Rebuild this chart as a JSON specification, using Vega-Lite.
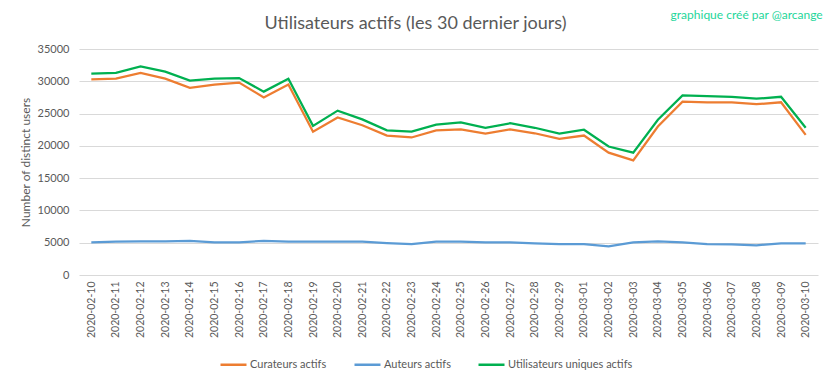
{
  "$schema": "https://vega.github.io/schema/vega-lite/v6.json",
  "width": 739,
  "height": 226,
  "autosize": {"type": "none"},
  "padding": {"left": 79, "top": 49, "right": 15, "bottom": 104},
  "background": "white",
  "title": {
    "text": "Utilisateurs actifs (les 30 dernier jours)",
    "orient": "top",
    "font": "Lato",
    "fontSize": 18,
    "fontWeight": "normal",
    "color": "#595959",
    "anchor": "middle",
    "dx": -33,
    "offset": -24
  },
  "config": {
    "view": {"stroke": null},
    "font": "Lato",
    "axis": {
      "labelColor": "#595959",
      "titleColor": "#595959",
      "labelFont": "Lato",
      "titleFont": "Lato",
      "gridColor": "#d9d9d9",
      "gridWidth": 1
    },
    "axisX": {
      "title": null,
      "labelAngle": 270,
      "labelFontSize": 10.5,
      "labelPadding": 6,
      "ticks": false,
      "domain": false,
      "grid": false
    },
    "axisY": {
      "titleFontSize": 12,
      "titleFontWeight": "normal",
      "titlePadding": 5,
      "labelOverlap": false,
      "labelFontSize": 11,
      "labelPadding": 10,
      "ticks": false,
      "domain": false
    },
    "legend": {"labelColor": "#595959", "labelFont": "Lato"}
  },
  "data": {
    "values": [
      {"date": "2020-02-10", "series": "Curateurs actifs", "value": 30300},
      {"date": "2020-02-11", "series": "Curateurs actifs", "value": 30400},
      {"date": "2020-02-12", "series": "Curateurs actifs", "value": 31300},
      {"date": "2020-02-13", "series": "Curateurs actifs", "value": 30400},
      {"date": "2020-02-14", "series": "Curateurs actifs", "value": 29000},
      {"date": "2020-02-15", "series": "Curateurs actifs", "value": 29500},
      {"date": "2020-02-16", "series": "Curateurs actifs", "value": 29800},
      {"date": "2020-02-17", "series": "Curateurs actifs", "value": 27500},
      {"date": "2020-02-18", "series": "Curateurs actifs", "value": 29500},
      {"date": "2020-02-19", "series": "Curateurs actifs", "value": 22200},
      {"date": "2020-02-20", "series": "Curateurs actifs", "value": 24400},
      {"date": "2020-02-21", "series": "Curateurs actifs", "value": 23200},
      {"date": "2020-02-22", "series": "Curateurs actifs", "value": 21600},
      {"date": "2020-02-23", "series": "Curateurs actifs", "value": 21300},
      {"date": "2020-02-24", "series": "Curateurs actifs", "value": 22400},
      {"date": "2020-02-25", "series": "Curateurs actifs", "value": 22550},
      {"date": "2020-02-26", "series": "Curateurs actifs", "value": 21900},
      {"date": "2020-02-27", "series": "Curateurs actifs", "value": 22550},
      {"date": "2020-02-28", "series": "Curateurs actifs", "value": 21950},
      {"date": "2020-02-29", "series": "Curateurs actifs", "value": 21100},
      {"date": "2020-03-01", "series": "Curateurs actifs", "value": 21600},
      {"date": "2020-03-02", "series": "Curateurs actifs", "value": 18950},
      {"date": "2020-03-03", "series": "Curateurs actifs", "value": 17750},
      {"date": "2020-03-04", "series": "Curateurs actifs", "value": 23000},
      {"date": "2020-03-05", "series": "Curateurs actifs", "value": 26850},
      {"date": "2020-03-06", "series": "Curateurs actifs", "value": 26750},
      {"date": "2020-03-07", "series": "Curateurs actifs", "value": 26750},
      {"date": "2020-03-08", "series": "Curateurs actifs", "value": 26450},
      {"date": "2020-03-09", "series": "Curateurs actifs", "value": 26750},
      {"date": "2020-03-10", "series": "Curateurs actifs", "value": 21700},
      {"date": "2020-02-10", "series": "Auteurs actifs", "value": 5050},
      {"date": "2020-02-11", "series": "Auteurs actifs", "value": 5150},
      {"date": "2020-02-12", "series": "Auteurs actifs", "value": 5200},
      {"date": "2020-02-13", "series": "Auteurs actifs", "value": 5200},
      {"date": "2020-02-14", "series": "Auteurs actifs", "value": 5300},
      {"date": "2020-02-15", "series": "Auteurs actifs", "value": 5050},
      {"date": "2020-02-16", "series": "Auteurs actifs", "value": 5050},
      {"date": "2020-02-17", "series": "Auteurs actifs", "value": 5300},
      {"date": "2020-02-18", "series": "Auteurs actifs", "value": 5150},
      {"date": "2020-02-19", "series": "Auteurs actifs", "value": 5150},
      {"date": "2020-02-20", "series": "Auteurs actifs", "value": 5150},
      {"date": "2020-02-21", "series": "Auteurs actifs", "value": 5150},
      {"date": "2020-02-22", "series": "Auteurs actifs", "value": 4950},
      {"date": "2020-02-23", "series": "Auteurs actifs", "value": 4800},
      {"date": "2020-02-24", "series": "Auteurs actifs", "value": 5150},
      {"date": "2020-02-25", "series": "Auteurs actifs", "value": 5150},
      {"date": "2020-02-26", "series": "Auteurs actifs", "value": 5050},
      {"date": "2020-02-27", "series": "Auteurs actifs", "value": 5050},
      {"date": "2020-02-28", "series": "Auteurs actifs", "value": 4900},
      {"date": "2020-02-29", "series": "Auteurs actifs", "value": 4800},
      {"date": "2020-03-01", "series": "Auteurs actifs", "value": 4800},
      {"date": "2020-03-02", "series": "Auteurs actifs", "value": 4450},
      {"date": "2020-03-03", "series": "Auteurs actifs", "value": 5050},
      {"date": "2020-03-04", "series": "Auteurs actifs", "value": 5200},
      {"date": "2020-03-05", "series": "Auteurs actifs", "value": 5050},
      {"date": "2020-03-06", "series": "Auteurs actifs", "value": 4800},
      {"date": "2020-03-07", "series": "Auteurs actifs", "value": 4750},
      {"date": "2020-03-08", "series": "Auteurs actifs", "value": 4600},
      {"date": "2020-03-09", "series": "Auteurs actifs", "value": 4900},
      {"date": "2020-03-10", "series": "Auteurs actifs", "value": 4900},
      {"date": "2020-02-10", "series": "Utilisateurs uniques actifs", "value": 31200},
      {"date": "2020-02-11", "series": "Utilisateurs uniques actifs", "value": 31300},
      {"date": "2020-02-12", "series": "Utilisateurs uniques actifs", "value": 32300},
      {"date": "2020-02-13", "series": "Utilisateurs uniques actifs", "value": 31500},
      {"date": "2020-02-14", "series": "Utilisateurs uniques actifs", "value": 30100},
      {"date": "2020-02-15", "series": "Utilisateurs uniques actifs", "value": 30400},
      {"date": "2020-02-16", "series": "Utilisateurs uniques actifs", "value": 30500},
      {"date": "2020-02-17", "series": "Utilisateurs uniques actifs", "value": 28400},
      {"date": "2020-02-18", "series": "Utilisateurs uniques actifs", "value": 30400},
      {"date": "2020-02-19", "series": "Utilisateurs uniques actifs", "value": 23100},
      {"date": "2020-02-20", "series": "Utilisateurs uniques actifs", "value": 25450},
      {"date": "2020-02-21", "series": "Utilisateurs uniques actifs", "value": 24100},
      {"date": "2020-02-22", "series": "Utilisateurs uniques actifs", "value": 22400},
      {"date": "2020-02-23", "series": "Utilisateurs uniques actifs", "value": 22200},
      {"date": "2020-02-24", "series": "Utilisateurs uniques actifs", "value": 23300},
      {"date": "2020-02-25", "series": "Utilisateurs uniques actifs", "value": 23650},
      {"date": "2020-02-26", "series": "Utilisateurs uniques actifs", "value": 22800},
      {"date": "2020-02-27", "series": "Utilisateurs uniques actifs", "value": 23500},
      {"date": "2020-02-28", "series": "Utilisateurs uniques actifs", "value": 22800},
      {"date": "2020-02-29", "series": "Utilisateurs uniques actifs", "value": 21900},
      {"date": "2020-03-01", "series": "Utilisateurs uniques actifs", "value": 22500},
      {"date": "2020-03-02", "series": "Utilisateurs uniques actifs", "value": 19900},
      {"date": "2020-03-03", "series": "Utilisateurs uniques actifs", "value": 18950},
      {"date": "2020-03-04", "series": "Utilisateurs uniques actifs", "value": 24050},
      {"date": "2020-03-05", "series": "Utilisateurs uniques actifs", "value": 27800},
      {"date": "2020-03-06", "series": "Utilisateurs uniques actifs", "value": 27700},
      {"date": "2020-03-07", "series": "Utilisateurs uniques actifs", "value": 27600},
      {"date": "2020-03-08", "series": "Utilisateurs uniques actifs", "value": 27300},
      {"date": "2020-03-09", "series": "Utilisateurs uniques actifs", "value": 27600},
      {"date": "2020-03-10", "series": "Utilisateurs uniques actifs", "value": 22800}
    ]
  },
  "layer": [
    {
      "mark": {"type": "line", "strokeWidth": 2.25},
      "encoding": {
        "x": {
          "field": "date",
          "type": "ordinal",
          "scale": {"type": "point", "padding": 0.5}
        },
        "y": {
          "field": "value",
          "type": "quantitative",
          "scale": {"domain": [0, 35000], "nice": false},
          "axis": {
            "title": "Number of distinct users",
            "values": [0, 5000, 10000, 15000, 20000, 25000, 30000, 35000],
            "format": "d"
          }
        },
        "color": {
          "field": "series",
          "type": "nominal",
          "scale": {
            "domain": ["Curateurs actifs", "Auteurs actifs", "Utilisateurs uniques actifs"],
            "range": ["#ED7D31", "#5B9BD5", "#00B050"]
          },
          "legend": {
            "title": null,
            "orient": "none",
            "legendX": 140,
            "legendY": 301,
            "direction": "horizontal",
            "symbolType": "stroke",
            "symbolSize": 676,
            "symbolStrokeWidth": 2.5,
            "labelFontSize": 11,
            "labelOffset": 2,
            "columnPadding": 22
          }
        }
      }
    },
    {
      "data": {"values": [{"credit": "graphique créé par @arcange"}]},
      "mark": {
        "type": "text",
        "align": "right",
        "baseline": "middle",
        "font": "Lato",
        "fontSize": 12,
        "color": "#1DD69A",
        "dx": 17,
        "dy": -34
      },
      "encoding": {
        "x": {"datum": "2020-03-10", "type": "ordinal"},
        "y": {
          "datum": 35000,
          "type": "quantitative",
          "axis": {
            "title": "Number of distinct users",
            "values": [0, 5000, 10000, 15000, 20000, 25000, 30000, 35000],
            "format": "d"
          }
        },
        "text": {"field": "credit"}
      }
    }
  ]
}
